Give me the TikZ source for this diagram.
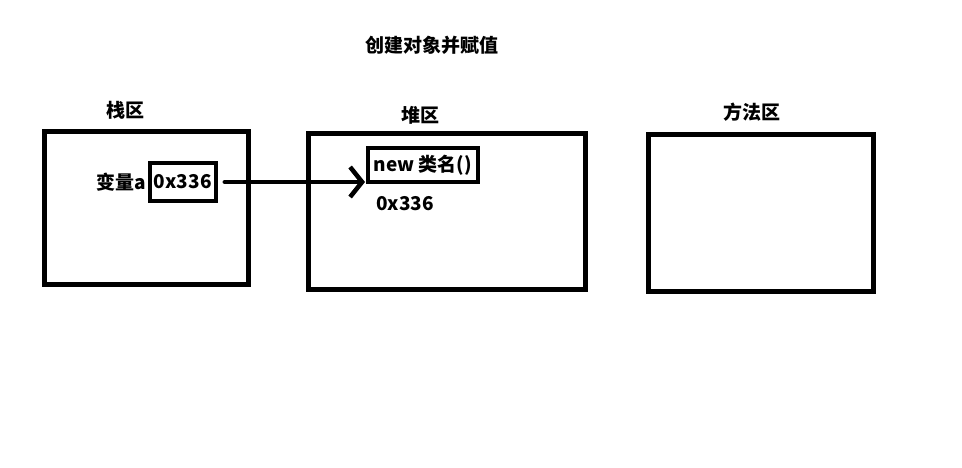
\documentclass[tikz,border=0pt]{standalone}
\usepackage{fontspec}
\setmainfont{Noto Sans CJK SC}
\usetikzlibrary{arrows.meta}

\begin{document}
\begin{tikzpicture}[x=1pt,y=-1pt,>={Straight Barb[length=12pt,width=30pt]},
  font=\fontsize{19}{21}\selectfont\bfseries,
  area/.style={draw,line width=5pt,inner sep=0pt},
  cell/.style={draw,line width=4pt,inner sep=0pt},
  lbl/.style={inner sep=0pt}]

  \useasboundingbox (0,0) rectangle (962,468);

  \node[lbl] (title) at (432,45) {创建对象并赋值};

  \node[area,minimum width=204pt,minimum height=152pt] (stack)  at (146.5,208) {};
  \node[area,minimum width=277pt,minimum height=155pt] (heap)   at (446.5,211.5) {};
  \node[area,minimum width=225pt,minimum height=157pt] (method) at (760.5,213) {};

  \node[lbl] (stacklbl)  at (125,110) {栈区};
  \node[lbl] (heaplbl)   at (420,115) {堆区};
  \node[lbl] (methodlbl) at (752,112) {方法区};

  \node[cell,minimum width=66pt,minimum height=38pt] (addr) at (182.75,182) {0x336};
  \node[lbl,anchor=east] (varname) at (146,182) {变量a};

  \node[cell,minimum width=110pt,minimum height=34pt] (obj) at (423,165) {new 类名()};
  \node[lbl,anchor=west] (objaddr) at (376,204) {0x336};

  \draw[->,line width=4.5pt,line cap=round,shorten <=7pt,shorten >=1pt]
    (addr.east) -- (addr.east -| obj.west);
\end{tikzpicture}
\end{document}
